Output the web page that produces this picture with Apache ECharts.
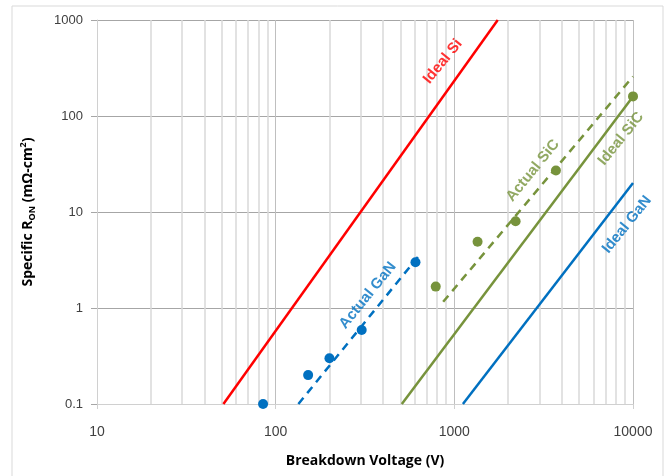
<!DOCTYPE html>
<html>
<head>
<meta charset="utf-8">
<script src="https://cdn.jsdelivr.net/npm/echarts@6/dist/echarts.min.js"></script>
<style>
  html, body { margin: 0; padding: 0; background: #fff; }
  #chart { width: 665px; height: 476px; }
</style>
</head>
<body>
<div id="chart"></div>
<script>
// lines: [voltage, specific Ron]
const idealSi = [[51, 0.1], [1750, 1000]];
const idealSiC = [[508, 0.1], [10000, 160]];
const idealGaN = [[1117, 0.1], [10000, 20]];
const actualGaNFit = [[134, 0.1], [625, 3.4]];
const actualSiCFit = [[866, 1.16], [10000, 258]];

// measured devices
const actualGaNPoints = [[85, 0.1], [152, 0.2], [200, 0.3], [303, 0.59], [606, 3]];
const actualSiCPoints = [[787, 1.67], [1349, 4.9], [2203, 8], [3704, 27], [10000, 160]];

// text labels next to the lines (anchored in data space)
const labelNames = ['Ideal Si', 'Actual GaN', 'Actual SiC', 'Ideal SiC', 'Ideal GaN'];
const labelPos = [[862, 370], [328, 1.35], [2754, 27], [8570, 58], [9250, 7.4]];

const xMinorLines = [];
[10, 100, 1000].forEach(d => {
  for (let k = 2; k <= 9; k++) xMinorLines.push(d * k);
});

const RED = '#ff0000';
const BLUE = '#0070c0';
const GREEN = '#77933c';
const labelColors = [RED, BLUE, GREEN, GREEN, BLUE];

const chart = echarts.init(document.getElementById('chart'), null, { renderer: 'canvas' });

const option = {
  backgroundColor: '#fff',
  animation: false,
  graphic: [{
    type: 'rect',
    shape: { x: 12, y: 6, width: 651, height: 490 },
    style: { fill: 'none', stroke: '#d9d9d9', lineWidth: 1 },
    silent: true
  }],
  grid: { left: 97, right: 32, top: 20, bottom: 72 },
  xAxis: {
    type: 'log',
    logBase: 10,
    min: 10,
    max: 10000,
    name: 'Breakdown Voltage (V)',
    nameLocation: 'middle',
    nameGap: 50,
    nameTextStyle: { fontFamily: 'Open Sans', fontWeight: 'bold', fontSize: 14, color: '#000' },
    axisLine: { show: true, onZero: false, lineStyle: { color: '#d0d0d0', width: 1 } },
    axisTick: { show: true, length: 5, lineStyle: { color: '#d0d0d0' } },
    axisLabel: {
      fontFamily: 'Liberation Sans', fontSize: 14, color: '#404040', margin: 21,
      formatter: v => String(v)
    },
    splitLine: { show: true, lineStyle: { color: '#bfbfbf', width: 1 } }
  },
  yAxis: {
    type: 'log',
    logBase: 10,
    min: 0.1,
    max: 1000,
    name: 'Specific R{sub|ON} (mΩ-cm{sup|2})',
    nameLocation: 'middle',
    nameGap: 60,
    nameTextStyle: {
      fontFamily: 'Open Sans', fontWeight: 'bold', fontSize: 14, color: '#000', lineHeight: 18,
      rich: {
        sub: { fontFamily: 'Open Sans', fontWeight: 'bold', fontSize: 9, color: '#000', verticalAlign: 'bottom', lineHeight: 18 },
        sup: { fontFamily: 'Open Sans', fontWeight: 'bold', fontSize: 9, color: '#000', verticalAlign: 'top', lineHeight: 18 }
      }
    },
    axisLine: { show: true, lineStyle: { color: '#d0d0d0', width: 1 } },
    axisTick: { show: true, length: 6, lineStyle: { color: '#a6a6a6' } },
    axisLabel: {
      fontFamily: 'Liberation Sans', fontSize: 13, color: '#404040', margin: 14,
      formatter: v => String(v)
    },
    splitLine: { show: true, lineStyle: { color: '#a6a6a6', width: 1 } }
  },
  series: [
    {
      name: 'minor grid',
      type: 'line',
      data: [],
      silent: true,
      markLine: {
        silent: true,
        symbol: 'none',
        z: 1,
        label: { show: false },
        lineStyle: { color: '#d9d9d9', type: 'solid', width: 1.5 },
        data: xMinorLines.map(v => ({ xAxis: v }))
      }
    },
    {
      name: 'Ideal Si', type: 'line', data: idealSi, symbol: 'none',
      lineStyle: { color: RED, width: 2.5 }
    },
    {
      name: 'Ideal SiC', type: 'line', data: idealSiC, symbol: 'none',
      lineStyle: { color: GREEN, width: 2.5 }
    },
    {
      name: 'Ideal GaN', type: 'line', data: idealGaN, symbol: 'none',
      lineStyle: { color: BLUE, width: 2.5 }
    },
    {
      name: 'Actual GaN fit', type: 'line', data: actualGaNFit, symbol: 'none',
      lineStyle: { color: BLUE, width: 2.5, type: [8, 6] }
    },
    {
      name: 'Actual SiC fit', type: 'line', data: actualSiCFit, symbol: 'none',
      lineStyle: { color: GREEN, width: 2.5, type: [8, 6] }
    },
    {
      name: 'Actual GaN', type: 'scatter', data: actualGaNPoints, symbolSize: 10, clip: false,
      itemStyle: { color: BLUE, opacity: 1 }
    },
    {
      name: 'Actual SiC', type: 'scatter', data: actualSiCPoints, symbolSize: 10, clip: false,
      itemStyle: { color: GREEN, opacity: 1 }
    },
    {
      name: 'labels', type: 'scatter', symbolSize: 0, clip: false, silent: true,
      data: labelNames.map((n, i) => ({
        value: labelPos[i],
        name: n,
        label: { color: labelColors[i] }
      })),
      label: {
        show: true,
        position: 'inside',
        formatter: '{b}',
        rotate: 51,
        fontFamily: 'Liberation Sans',
        fontWeight: 'bold',
        fontSize: 15
      }
    }
  ]
};

chart.setOption(option);
</script>
</body>
</html>
